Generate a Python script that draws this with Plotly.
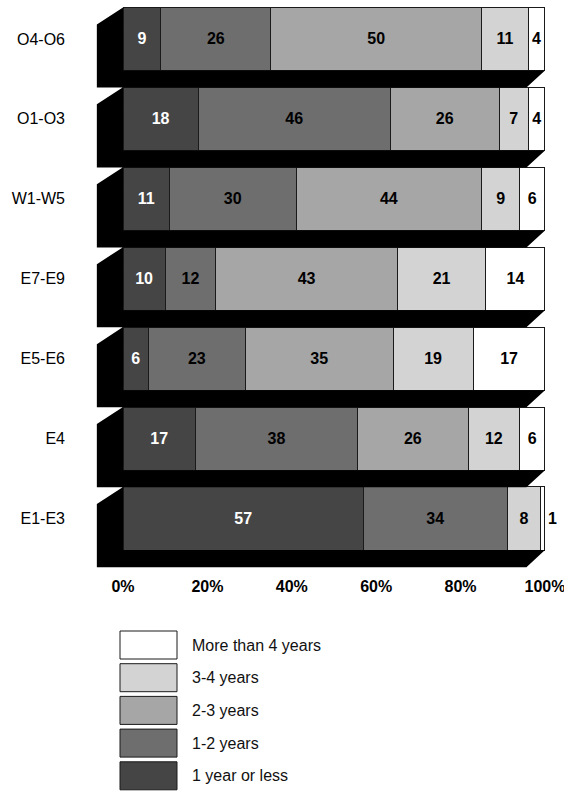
import plotly.graph_objects as go

# pay grade groups, top to bottom as drawn
groups = ['O4-O6', 'O1-O3', 'W1-W5', 'E7-E9', 'E5-E6', 'E4', 'E1-E3']

# time in current assignment, percent of each group
series_names = ['1 year or less', '1-2 years', '2-3 years', '3-4 years', 'More than 4 years']
year_or_less = [9, 18, 11, 10, 6, 17, 57]
one_to_two = [26, 46, 30, 12, 23, 38, 34]
two_to_three = [50, 26, 44, 43, 35, 26, 0]
three_to_four = [11, 7, 9, 21, 19, 12, 8]
more_than_four = [4, 4, 6, 14, 17, 6, 1]

tick_vals = [0, 20, 40, 60, 80, 100]
tick_text = ['0%', '20%', '40%', '60%', '80%', '100%']

series = [year_or_less, one_to_two, two_to_three, three_to_four, more_than_four]
colors = ['#454545', '#6e6e6e', '#a6a6a6', '#d3d3d3', '#ffffff']
text_colors = ['white', 'black', 'black', 'black', 'black']

FONT = 'Liberation Sans, Arial, Helvetica, sans-serif'

# page geometry (pixels)
W, H = 564, 792
ML, MR, MT, MB = 96, 15, 3, 218
PW, PH = W - ML - MR, H - MT - MB

ypos = list(range(len(groups)))[::-1]
bar_w = 0.79
half = bar_w / 2
# depth of the fake 3d block, in data units
dx_left, dx_right, dy = 6.2, 4.4, 0.213

fig = go.Figure()

# black block behind each bar
sx, sy = [], []
for y in ypos:
    top, bot = y + half, y - half
    sx += [0, -dx_left, -dx_left, 100 - dx_right, 100, 0, 0, None]
    sy += [top, top - dy, bot - dy, bot - dy, bot, bot, top, None]
fig.add_trace(go.Scatter(x=sx, y=sy, fill='toself', fillcolor='black', mode='lines',
                         line=dict(width=0, color='black'), hoverinfo='skip', showlegend=False))

for i, (name, vals) in enumerate(zip(series_names, series)):
    labels = [str(v) if v > 0 else '' for v in vals]
    positions = ['inside'] * len(vals)
    if i == len(series) - 1:
        positions = ['outside' if v < 3 else 'inside' for v in vals]
    fig.add_trace(go.Bar(
        x=vals, y=ypos, orientation='h', name=name, width=bar_w,
        marker=dict(color=colors[i], line=dict(color='#1a1a1a', width=1)),
        text=labels, textposition=positions, insidetextanchor='middle',
        insidetextfont=dict(color=text_colors[i], size=16, family=FONT),
        outsidetextfont=dict(color='black', size=16, family=FONT),
        texttemplate='<b>%{text}</b>', cliponaxis=False,
        showlegend=False, hoverinfo='skip'))

fig.update_layout(
    width=W, height=H,
    margin=dict(l=ML, r=MR, t=MT, b=MB),
    barmode='stack', barnorm='percent',
    plot_bgcolor='white', paper_bgcolor='white',
    font=dict(family=FONT, color='black'),
    uniformtext=dict(minsize=16, mode='show'),
)

# 4.22 px per percent, 0% at x=123
fig.update_xaxes(range=[-6.4, 100.95], tickvals=tick_vals, ticktext=[f'<b>{t}</b>' for t in tick_text],
                 tickfont=dict(size=16, color='black'), showgrid=False, zeroline=False,
                 showline=False, ticks='', ticklabelstandoff=1, automargin=False,
                 ticklabeloverflow='allow')
fig.update_yaxes(range=[-0.694, 6.45], tickvals=ypos, ticktext=groups,
                 tickfont=dict(size=16, color='black'), showgrid=False, zeroline=False,
                 showline=False, ticks='', ticklabelstandoff=30, automargin=False)


def px_x(p):
    return (p - ML) / PW


def px_y(p):
    return (MT + PH - p) / PH


# legend boxes, largest category on top
for k, i in enumerate(range(len(series_names) - 1, -1, -1)):
    top = 631 + k * 32.7
    fig.add_shape(type='rect', xref='paper', yref='paper',
                  x0=px_x(120), x1=px_x(177), y0=px_y(top + 28), y1=px_y(top),
                  fillcolor=colors[i], line=dict(color='#1a1a1a', width=1))
    fig.add_annotation(xref='paper', yref='paper', x=px_x(190), y=px_y(top + 14),
                       text=series_names[i], showarrow=False, xanchor='left', yanchor='middle',
                       font=dict(size=16, color='#111'))

# drop the page margin so the figure sits at the window corner
fig.write_html('out.html', config={'displayModeBar': False},
               post_script="document.body.style.margin='0';")
